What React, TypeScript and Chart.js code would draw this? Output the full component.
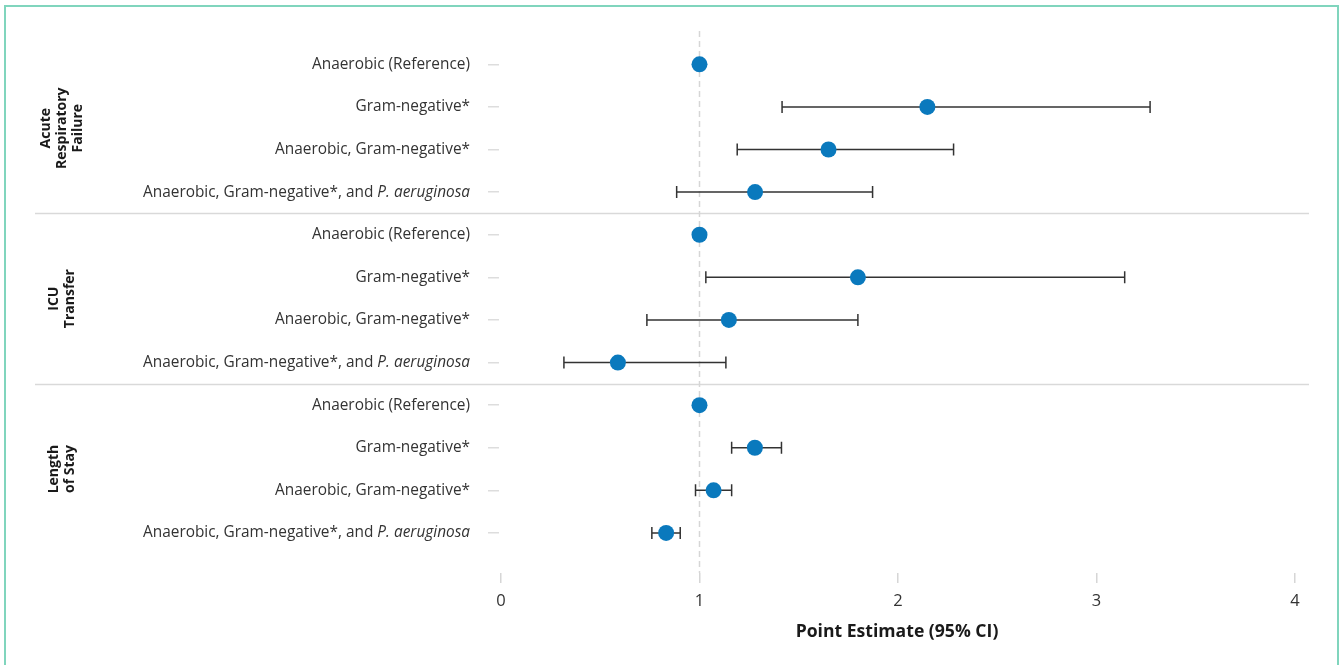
import React, { useEffect, useRef } from "react";
import { Chart, registerables } from "chart.js";

Chart.register(...registerables);

// ---- Data ----
const rowLabels = [
  "Anaerobic (Reference)",
  "Gram-negative*",
  "Anaerobic, Gram-negative*",
  "Anaerobic, Gram-negative*, and ",
  "Anaerobic (Reference)",
  "Gram-negative*",
  "Anaerobic, Gram-negative*",
  "Anaerobic, Gram-negative*, and ",
  "Anaerobic (Reference)",
  "Gram-negative*",
  "Anaerobic, Gram-negative*",
  "Anaerobic, Gram-negative*, and ",
];
const rowItalic = ["", "", "", "P. aeruginosa", "", "", "", "P. aeruginosa", "", "", "", "P. aeruginosa"];
const estimates = [1, 2.148, 1.65, 1.28, 1, 1.798, 1.148, 0.589, 1, 1.279, 1.071, 0.832];
const ciLow: (number | null)[] = [null, 1.416, 1.19, 0.885, null, 1.032, 0.735, 0.317, null, 1.162, 0.98, 0.76];
const ciHigh: (number | null)[] = [null, 3.27, 2.28, 1.872, null, 3.142, 1.798, 1.133, null, 1.413, 1.162, 0.903];
const groupLabels = [["Acute", "Respiratory", "Failure"], ["ICU", "Transfer"], ["Length", "of Stay"]];
const groupStartRows = [0, 4, 8];
const groupEndRows = [3, 7, 11];
const xTicks = [0, 1, 2, 3, 4];
const referenceValue = 1;
const xTitle = "Point Estimate (95% CI)";

const FONT = "'Open Sans', 'Noto Sans', sans-serif";
const TEXT = "#333333";
const POINT = "#0a79bd";

const forestPlugin = {
  id: "forest",
  beforeDatasetsDraw(chart: any) {
    const { ctx, chartArea, scales } = chart;
    const xs = scales.x;
    const ys = scales.y;
    ctx.save();
    // group separators
    ctx.strokeStyle = "#d9d9d9";
    ctx.lineWidth = 1.5;
    for (let g = 0; g < groupEndRows.length - 1; g++) {
      const y = Math.round(ys.getPixelForValue(groupEndRows[g] + 0.5)) + 0.5;
      ctx.beginPath();
      ctx.moveTo(35, y);
      ctx.lineTo(chartArea.right + 14, y);
      ctx.stroke();
    }
    // reference dashed line
    const rx = Math.round(xs.getPixelForValue(referenceValue)) + 0.5;
    ctx.strokeStyle = "#d6d6d6";
    ctx.lineWidth = 1.5;
    ctx.setLineDash([6, 4]);
    ctx.beginPath();
    ctx.moveTo(rx, chartArea.top - 12);
    ctx.lineTo(rx, chartArea.bottom);
    ctx.stroke();
    ctx.setLineDash([]);
    // error bars
    ctx.strokeStyle = "#333333";
    ctx.lineWidth = 1.5;
    for (let i = 0; i < estimates.length; i++) {
      const lo = ciLow[i];
      const hi = ciHigh[i];
      if (lo == null || hi == null) continue;
      const y = ys.getPixelForValue(i);
      const x1 = xs.getPixelForValue(lo);
      const x2 = xs.getPixelForValue(hi);
      ctx.beginPath();
      ctx.moveTo(x1, y);
      ctx.lineTo(x2, y);
      ctx.moveTo(x1, y - 6);
      ctx.lineTo(x1, y + 6);
      ctx.moveTo(x2, y - 6);
      ctx.lineTo(x2, y + 6);
      ctx.stroke();
    }
    ctx.restore();
  },
  afterDraw(chart: any) {
    const { ctx, scales } = chart;
    const ys = scales.y;
    ctx.save();
    ctx.fillStyle = TEXT;
    ctx.textBaseline = "middle";
    const rightX = 470;
    for (let i = 0; i < rowLabels.length; i++) {
      const y = ys.getPixelForValue(i);
      let x = rightX;
      if (rowItalic[i]) {
        ctx.font = `italic 15.4px ${FONT}`;
        ctx.textAlign = "right";
        ctx.fillText(rowItalic[i], x, y);
        x -= ctx.measureText(rowItalic[i]).width;
      }
      ctx.font = `15.4px ${FONT}`;
      ctx.textAlign = "right";
      ctx.fillText(rowLabels[i], x, y);
    }
    // group labels (rotated)
    ctx.fillStyle = "#1a1a1a";
    ctx.font = `bold 14px ${FONT}`;
    ctx.textAlign = "center";
    const lineH = 16;
    for (let g = 0; g < groupLabels.length; g++) {
      const cy = ys.getPixelForValue((groupStartRows[g] + groupEndRows[g]) / 2);
      const lines = groupLabels[g];
      const cx = 62;
      ctx.save();
      ctx.translate(cx, cy);
      ctx.rotate(-Math.PI / 2);
      lines.forEach((ln, k) => {
        const off = (k - (lines.length - 1) / 2) * lineH;
        ctx.fillText(ln, 0, off);
      });
      ctx.restore();
    }
    ctx.restore();
  },
};

export default function App() {
  const ref = useRef<HTMLCanvasElement | null>(null);
  useEffect(() => {
    if (!ref.current) return;
    const chart = new Chart(ref.current, {
      type: "scatter",
      data: {
        datasets: [
          {
            data: estimates.map((v, i) => ({ x: v, y: i })),
            backgroundColor: POINT,
            borderWidth: 0,
            pointRadius: 8,
            pointHoverRadius: 8,
          },
        ],
      },
      options: {
        animation: false,
        responsive: false,
        events: [],
        layout: { padding: { top: 43, right: 48, left: 0, bottom: 0 } },
        plugins: { legend: { display: false }, tooltip: { enabled: false } },
        scales: {
          x: {
            type: "linear",
            min: -0.01,
            max: 4,
            afterBuildTicks: (s: any) => {
              s.ticks = xTicks.map((v) => ({ value: v }));
            },
            afterFit: (s: any) => {
              s.height = 92;
            },
            border: { display: false },
            grid: { drawOnChartArea: false, drawTicks: true, tickLength: 10, color: "#d6d6d6", lineWidth: 1.5 },
            ticks: { color: TEXT, font: { family: FONT, size: 16.5 }, padding: 8, maxRotation: 0 },
            title: {
              display: true,
              text: xTitle,
              color: "#1a1a1a",
              font: { family: FONT, size: 17.6, weight: "bold" },
              padding: { top: 0, bottom: 22 },
            },
          },
          y: {
            type: "linear",
            reverse: true,
            min: -0.5,
            max: 11.94,
            afterBuildTicks: (s: any) => {
              s.ticks = estimates.map((_, i) => ({ value: i }));
            },
            afterFit: (s: any) => {
              s.width = 499;
            },
            border: { display: false },
            grid: { drawOnChartArea: false, drawTicks: true, tickLength: 11, color: "#dddddd", lineWidth: 1.5 },
            ticks: { display: false },
          },
        },
      },
      plugins: [forestPlugin],
    } as any);
    return () => chart.destroy();
  }, []);

  return (
    <div>
      <div
        style={{
          position: "fixed",
          left: 4,
          top: 5,
          width: 1335,
          height: 720,
          border: "2px solid #80d5bd",
          boxSizing: "border-box",
        }}
      />
      <canvas
        ref={ref}
        width={1343}
        height={665}
        style={{ position: "fixed", left: 0, top: 0, width: 1343, height: 665 }}
      />
    </div>
  );
}
